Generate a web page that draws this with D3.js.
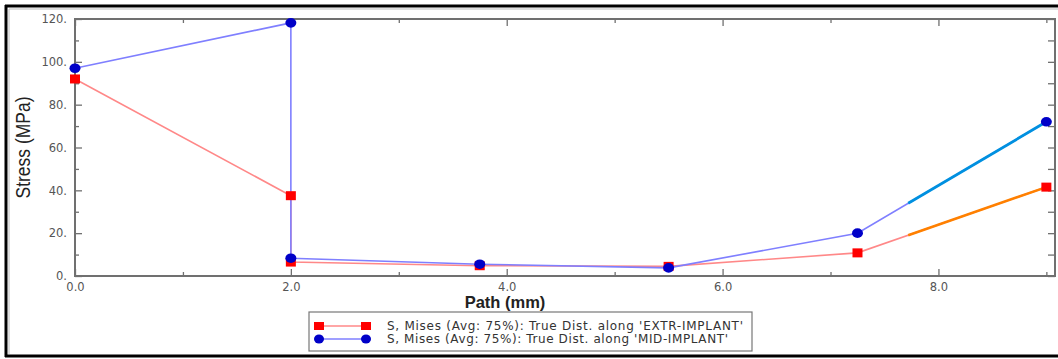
<!DOCTYPE html>
<html><head><meta charset="utf-8">
<script src="https://cdn.jsdelivr.net/npm/d3@7"></script>
<style>body{margin:0;background:#fff}svg{display:block}</style>
</head><body>
<svg id="c" width="1058" height="359"></svg>
<script>
const extrX = [0, 2.0, 2.0, 3.75, 5.5, 7.25, 9.0];
const extrY = [92, 37.5, 6.5, 4.8, 4.5, 10.8, 41.5];
const midX  = [0, 2.0, 2.0, 3.75, 5.5, 7.25, 9.0];
const midY  = [97, 118.2, 8.3, 5.5, 3.8, 20, 72];
const xTicks = [0, 2, 4, 6, 8];
const xMinor = [1, 3, 5, 7, 9];
const yTicks = [0, 20, 40, 60, 80, 100, 120];
const yMinor = [10, 30, 50, 70, 90, 110];
const seriesNames = ["S, Mises (Avg: 75%): True Dist. along 'EXTR-IMPLANT'",
                     "S, Mises (Avg: 75%): True Dist. along 'MID-IMPLANT'"];
const highlightFromX = 7.72;

const svg = d3.select("#c");
const L = 75, R = 1055, T = 19, B = 276;
const x = d3.scaleLinear().domain([0, 9.08]).range([L, R]);
const y = d3.scaleLinear().domain([0, 120]).range([B, T]);

// outer frame
svg.append("line").attr("x1",5).attr("x2",1058).attr("y1",6).attr("y2",6).attr("stroke","#000").attr("stroke-width",3);
svg.append("line").attr("x1",6).attr("x2",6).attr("y1",5).attr("y2",357).attr("stroke","#000").attr("stroke-width",3);
svg.append("line").attr("x1",5).attr("x2",1058).attr("y1",356).attr("y2",356).attr("stroke","#000").attr("stroke-width",3);
svg.append("line").attr("x1",9).attr("x2",1058).attr("y1",9).attr("y2",9).attr("stroke","#bbb").attr("stroke-width",1);
svg.append("line").attr("x1",9).attr("x2",9).attr("y1",9).attr("y2",354).attr("stroke","#bbb").attr("stroke-width",1);

const axCol = "#707070";
const fmtY = d => d + ".";
const fmtX = d => d.toFixed(1);

// axes
const gx = svg.append("g").attr("transform",`translate(0,${B})`)
  .call(d3.axisBottom(x).tickValues(xTicks).tickSize(-7).tickPadding(12).tickFormat(fmtX));
const gxm = svg.append("g").attr("transform",`translate(0,${B})`)
  .call(d3.axisBottom(x).tickValues(xMinor).tickSize(-4).tickFormat(""));
const gxt = svg.append("g").attr("transform",`translate(0,${T})`)
  .call(d3.axisTop(x).tickValues(xTicks).tickSize(-7).tickFormat(""));
const gxtm = svg.append("g").attr("transform",`translate(0,${T})`)
  .call(d3.axisTop(x).tickValues(xMinor).tickSize(-4).tickFormat(""));
const gy = svg.append("g").attr("transform",`translate(${L},0)`)
  .call(d3.axisLeft(y).tickValues(yTicks).tickSize(-7).tickPadding(8).tickFormat(fmtY));
const gym = svg.append("g").attr("transform",`translate(${L},0)`)
  .call(d3.axisLeft(y).tickValues(yMinor).tickSize(-4).tickFormat(""));
const gyr = svg.append("g").attr("transform",`translate(${R},0)`)
  .call(d3.axisRight(y).tickValues(yTicks.concat(yMinor)).tickSize(-7).tickFormat(""));
[gx,gxm,gxt,gxtm,gy,gym,gyr].forEach(g=>{
  g.select(".domain").remove();
  g.selectAll("line").attr("stroke",axCol).attr("stroke-width",1.3);
  g.selectAll("text").attr("fill","#555").attr("font-family","DejaVu Sans, Verdana, sans-serif").attr("font-size",11.5);
});
gx.selectAll("text").attr("dy","0.3em");
// plot frame
svg.append("rect").attr("x",L).attr("y",T).attr("width",R-L).attr("height",B-T)
  .attr("fill","none").attr("stroke",axCol).attr("stroke-width",2);

// axis titles
svg.append("text").attr("transform",`translate(30,${(T+B)/2}) rotate(-90)`).attr("text-anchor","middle")
  .attr("font-family","Liberation Sans Narrow, Arial Narrow, Liberation Sans, sans-serif").attr("font-size",20)
  .attr("textLength",102).attr("lengthAdjust","spacingAndGlyphs")
  .attr("fill","#222").text("Stress (MPa)");
svg.append("text").attr("x",505).attr("y",308).attr("text-anchor","middle")
  .attr("font-family","Liberation Sans, Arial, sans-serif").attr("font-size",16.5).attr("font-weight","bold")
  .attr("fill","#222").text("Path (mm)");

const line = d3.line().x(d=>x(d[0])).y(d=>y(d[1]));
const extr = extrX.map((v,i)=>[v,extrY[i]]);
const mid = midX.map((v,i)=>[v,midY[i]]);

svg.append("path").attr("d",line(extr)).attr("fill","none").attr("stroke","#ff8888").attr("stroke-width",1.6);
svg.append("path").attr("d",line(mid)).attr("fill","none").attr("stroke","#7f7fff").attr("stroke-width",1.6);

// highlighted final segments
function tail(data){
  const n = data.length, a = data[n-2], b = data[n-1];
  const t = (highlightFromX - a[0])/(b[0]-a[0]);
  return [[highlightFromX, d3.interpolateNumber(a[1], b[1])(t)], b];
}
svg.append("path").attr("d",line(tail(extr))).attr("fill","none").attr("stroke","#ff8000").attr("stroke-width",2.6);
svg.append("path").attr("d",line(tail(mid))).attr("fill","none").attr("stroke","#0090e0").attr("stroke-width",2.8);

svg.selectAll(".sq").data(extr).join("rect").attr("x",d=>x(d[0])-5).attr("y",d=>y(d[1])-4.5)
  .attr("width",10).attr("height",9).attr("fill","#ff0000");
svg.selectAll(".ci").data(mid).join("ellipse").attr("cx",d=>x(d[0])).attr("cy",d=>y(d[1]))
  .attr("rx",5.5).attr("ry",4.8).attr("fill","#0000c8");

// legend
svg.append("rect").attr("x",309).attr("y",312).attr("width",443).attr("height",39)
  .attr("fill","#fff").attr("stroke","#777").attr("stroke-width",1.2);
const lg = [{c:"#ff8888",m:"#ff0000",sq:true,y:326},{c:"#7f7fff",m:"#0000c8",sq:false,y:339}];
const lens = [356, 341];
lg.forEach((d,i)=>{
  svg.append("line").attr("x1",319).attr("x2",366).attr("y1",d.y).attr("y2",d.y).attr("stroke",d.c).attr("stroke-width",1.5);
  [319,366].forEach(px=>{
    if(d.sq) svg.append("rect").attr("x",px-5).attr("y",d.y-4).attr("width",10).attr("height",8).attr("fill",d.m);
    else svg.append("ellipse").attr("cx",px).attr("cy",d.y).attr("rx",5).attr("ry",4.5).attr("fill",d.m);
  });
  svg.append("text").attr("x",387).attr("y",d.y+4).attr("font-family","DejaVu Sans, Verdana, sans-serif")
    .attr("font-size",12).attr("textLength",lens[i]).attr("lengthAdjust","spacing")
    .attr("fill","#333").text(seriesNames[i]);
});
</script>
</body></html>
